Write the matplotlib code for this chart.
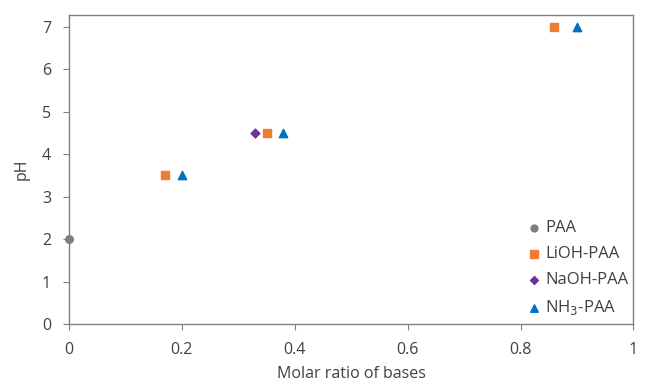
import matplotlib
matplotlib.use("Agg")
import matplotlib.pyplot as plt

plt.rcParams['font.family'] = ['Open Sans', 'DejaVu Sans']

paa_x = [0.0]
paa_y = [2.0]
lioh_x = [0.17, 0.35, 0.86]
lioh_y = [3.5, 4.5, 7.0]
naoh_x = [0.33]
naoh_y = [4.5]
nh3_x = [0.20, 0.38, 0.90]
nh3_y = [3.5, 4.5, 7.0]
xticks = [0, 0.2, 0.4, 0.6, 0.8, 1]
xticklabels = ['0', '0.2', '0.4', '0.6', '0.8', '1']
yticks = [0, 1, 2, 3, 4, 5, 6, 7]

fig = plt.figure(figsize=(6.45, 3.84), dpi=100)
ax = fig.add_axes([0.107, 0.156, 0.875, 0.805])

ax.scatter(paa_x, paa_y, marker='o', s=30, color='#7f7f7f', label='PAA', clip_on=False, zorder=3)
ax.scatter(lioh_x, lioh_y, marker='s', s=32, color='#ed7d31', label='LiOH-PAA', clip_on=False, zorder=3)
ax.scatter(naoh_x, naoh_y, marker='D', s=20, color='#7030a0', label='NaOH-PAA', clip_on=False, zorder=3)
ax.scatter(nh3_x, nh3_y, marker='^', s=36, color='#0070c0', label='NH$_3$-PAA', clip_on=False, zorder=3)

ax.set_xlim(0, 1)
ax.set_ylim(0, 7.28)
ax.set_xticks(xticks)
ax.set_xticklabels(xticklabels)
ax.set_yticks(yticks)
ax.tick_params(axis='both', labelsize=11.5, length=4, color='#808080', labelcolor='#404040')
ax.tick_params(axis='x', pad=9)
ax.tick_params(axis='y', pad=9)
for s in ax.spines.values():
    s.set_color('#808080')
    s.set_linewidth(1.0)

ax.set_xlabel('Molar ratio of bases', fontsize=11.5, color='#404040', labelpad=6)
ax.set_ylabel('pH', fontsize=11.5, color='#404040', labelpad=9)

leg = ax.legend(loc='lower right', frameon=False, fontsize=12, handletextpad=0.1,
                labelspacing=0.6, bbox_to_anchor=(1.012, -0.016), markerscale=0.9,
                handlelength=1.2, borderaxespad=0.3)
for t in leg.get_texts():
    t.set_color('#404040')

fig.savefig('out.png', dpi=100)
